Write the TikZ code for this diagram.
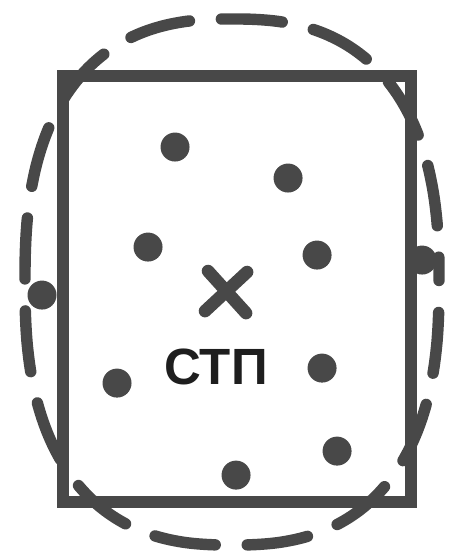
\documentclass[tikz,border=0pt]{standalone}
\usepackage{fontspec}
\setmainfont{Liberation Sans}
\usetikzlibrary{positioning,calc}
\definecolor{stpLine}{HTML}{484848}
\definecolor{stpText}{HTML}{1E1E1E}

\begin{document}
\begin{tikzpicture}

\useasboundingbox (0,0) rectangle (9,-11.2);

\def\cX{4.64}
\def\cY{-5.64}
\def\rX{4.14}
\def\rY{5.26}
\def\supN{0.8}              % 2/n for a superellipse with n = 2.5
\def\dotR{0.29}
\def\pxU{0.02}              % one reference pixel in cm

% --- DASHED ROUNDED OUTLINE (superellipse, corners just outside) ---
\draw[stpLine, line width=6.5pt, line cap=round,
      dash pattern=on 1.22cm off 0.64cm, dash phase=1.23cm]
  plot[domain=1:361, samples=181, smooth cycle, variable=\t]
  ({\cX + \rX*sign(cos(\t))*abs(cos(\t))^\supN},
   {\cY + \rY*sign(sin(\t))*abs(sin(\t))^\supN});

% --- RECTANGLE ---
\draw[stpLine, line width=6.5pt]
  (1.26, -1.52) rectangle (8.22, -10.04);

% --- POINTS (pixel positions) ---
\foreach \x/\y in {175/147, 288/178, 148/247, 317/255, 422/260,
                   42/295, 117/383, 322/368, 337/451, 236/475} {
  \fill[stpLine] (\x*\pxU, -\y*\pxU) circle (\dotR);
}

% --- CENTRE MARK ---
\draw[stpLine, line width=7.2pt, line cap=round]
  (208*\pxU, -271*\pxU) -- (246*\pxU, -313*\pxU)
  (247*\pxU, -272*\pxU) -- (205*\pxU, -311*\pxU);

\node[stpText, font=\fontsize{29}{30}\selectfont\bfseries, inner sep=0pt]
  (stp) at (216*\pxU, -367*\pxU) {СТП};

\end{tikzpicture}
\end{document}
